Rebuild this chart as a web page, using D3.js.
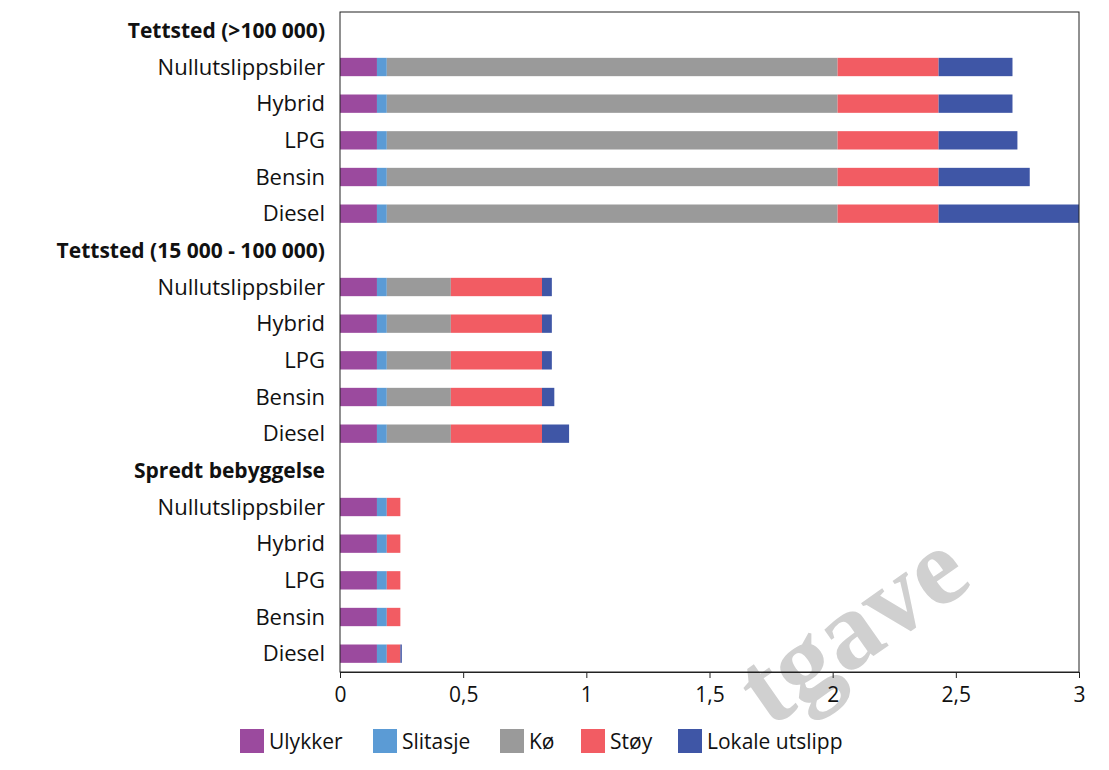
<!DOCTYPE html>
<html><head><meta charset="utf-8">
<script src="https://cdn.jsdelivr.net/npm/d3@7"></script>
<style>body{margin:0;background:#fff;font-family:"Open Sans",sans-serif}</style>
</head><body><svg id="c" width="1109" height="770"></svg>
<script>
const rowLabels = ["Tettsted (>100 000)","Nullutslippsbiler","Hybrid","LPG","Bensin","Diesel",
"Tettsted (15 000 - 100 000)","Nullutslippsbiler","Hybrid","LPG","Bensin","Diesel",
"Spredt bebyggelse","Nullutslippsbiler","Hybrid","LPG","Bensin","Diesel"];
const isHeader = [1,0,0,0,0,0,1,0,0,0,0,0,1,0,0,0,0,0];
const seriesNames = ["Ulykker","Slitasje","Kø","Støy","Lokale utslipp"];
const colors = ["#9b4a9e","#5b9bd5","#9a9a9a","#f25c63","#3f56a6"];
const ulykker  = [0,0.15,0.15,0.15,0.15,0.15, 0,0.15,0.15,0.15,0.15,0.15, 0,0.15,0.15,0.15,0.15,0.15];
const slitasje = [0,0.04,0.04,0.04,0.04,0.04, 0,0.04,0.04,0.04,0.04,0.04, 0,0.04,0.04,0.04,0.04,0.04];
const ko       = [0,1.83,1.83,1.83,1.83,1.83, 0,0.26,0.26,0.26,0.26,0.26, 0,0,0,0,0,0];
const stoy     = [0,0.41,0.41,0.41,0.41,0.41, 0,0.37,0.37,0.37,0.37,0.37, 0,0.055,0.055,0.055,0.055,0.055];
const lokale   = [0,0.30,0.30,0.32,0.37,0.57, 0,0.04,0.04,0.04,0.05,0.11, 0,0,0,0,0,0.006];
const xTicks = [0,0.5,1,1.5,2,2.5,3];
const tickLabels = ["0","0,5","1","1,5","2","2,5","3"];

const svg = d3.select("#c");
const L=340,R=1079,T=12,B=672;
const x = d3.scaleLinear().domain([0,3]).range([L,R]);
const y = d3.scaleBand().domain(d3.range(rowLabels.length)).range([T,B]).paddingInner(0.5).paddingOuter(0.25);

svg.append("text").attr("transform","translate(975,585) rotate(-35)").attr("text-anchor","end")
 .attr("font-family","Liberation Serif,serif").attr("font-weight","bold").attr("font-size",110)
 .attr("fill","#d0d0d0").text("tgave");

const data = [ulykker,slitasje,ko,stoy,lokale];
rowLabels.forEach((lab,i)=>{
  let acc=0;
  data.forEach((s,k)=>{
    const v=s[i]; if(v<=0) return;
    svg.append("rect").attr("x",x(acc)).attr("width",x(acc+v)-x(acc))
      .attr("y",y(i)).attr("height",y.bandwidth()).attr("fill",colors[k]);
    acc+=v;
  });
  svg.append("text").attr("x",325).attr("y",y(i)+y.bandwidth()/2)
   .attr("dy","0.35em").attr("text-anchor","end").attr("font-size",isHeader[i]?21:22)
   .attr("font-weight",isHeader[i]?"bold":"normal").attr("fill","#111").text(lab);
});

svg.append("rect").attr("x",L).attr("y",T).attr("width",R-L).attr("height",B-T)
 .attr("fill","none").attr("stroke","#222").attr("stroke-width",1);

const ax = svg.append("g").attr("transform",`translate(0,${B})`)
 .call(d3.axisBottom(x).tickValues(xTicks).tickFormat((d,i)=>tickLabels[i]).tickSize(6).tickSizeOuter(0));
ax.select(".domain").attr("stroke","#222");
ax.selectAll("line").attr("stroke","#222");
ax.selectAll("text").attr("font-size",21).attr("font-family","Open Sans").attr("fill","#111").attr("dy","1em");

const lx=[240,373,500,581,678];
seriesNames.forEach((n,k)=>{
  const g=svg.append("g").attr("transform",`translate(${lx[k]},729)`);
  g.append("rect").attr("width",24).attr("height",24).attr("fill",colors[k]);
  g.append("text").attr("x",29).attr("y",13).attr("dy","0.35em").attr("font-size",21).attr("fill","#111").text(n);
});
</script></body></html>
